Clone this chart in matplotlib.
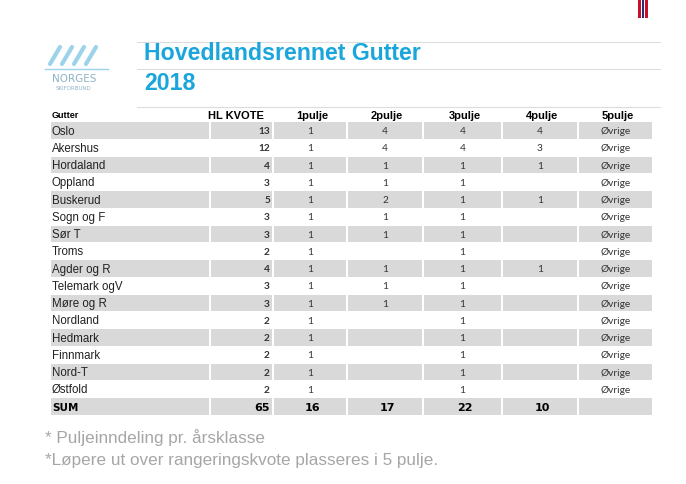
import matplotlib.pyplot as plt
from matplotlib.patches import Rectangle

# table data
regions = ["Oslo", "Akershus", "Hordaland", "Oppland", "Buskerud", "Sogn og F",
           "Sør T", "Troms", "Agder og R", "Telemark ogV", "Møre og R",
           "Nordland", "Hedmark", "Finnmark", "Nord-T", "Østfold"]
hl_kvote = [13, 12, 4, 3, 5, 3, 3, 2, 4, 3, 3, 2, 2, 2, 2, 2]
pulje1 = [1] * 16
pulje2 = [4, 4, 1, 1, 2, 1, 1, None, 1, 1, 1, None, None, None, None, None]
pulje3 = [4, 4, 1, 1, 1, 1, 1, 1, 1, 1, 1, 1, 1, 1, 1, 1]
pulje4 = [4, 3, 1, None, 1, None, None, None, 1, None, None, None, None, None, None, None]
pulje5 = ["Øvrige"] * 16
headers = ["Gutter", "HL KVOTE", "1pulje", "2pulje", "3pulje", "4pulje", "5pulje"]
sum_row = ["SUM", 65, 16, 17, 22, 10, None]
notes = ["* Puljeinndeling pr. årsklasse",
         "*Løpere ut over rangeringskvote plasseres i 5 pulje."]

W, H = 686, 485
fig = plt.figure(figsize=(W / 100, H / 100), dpi=100)
ax = fig.add_axes([0, 0, 1, 1])
ax.set_xlim(0, W)
ax.set_ylim(H, 0)
ax.axis("off")

blue = "#1aa6db"
gray_txt = "#a6a6a6"
shade = "#d9d9d9"

# flag stripes top right
ax.add_patch(Rectangle((638, 0), 3, 19, color="#c8102e", lw=0))
ax.add_patch(Rectangle((642, 0), 2, 19, color="#2b2d6e", lw=0))
ax.add_patch(Rectangle((645, 0), 3, 19, color="#c8102e", lw=0))

# logo (rough)
ax.text(74, 79, "NORGES", color="#8fb3c4", fontsize=7.5, ha="center",
        va="center", family="DejaVu Sans")
ax.text(74, 88, "SKIFORBUND", color="#8fb3c4", fontsize=4, ha="center",
        va="center", family="DejaVu Sans")
for dx in [0, 12, 24, 36]:
    ax.plot([50 + dx, 60 + dx], [65, 48], color="#9cd3ea", lw=3, solid_capstyle="round")
ax.plot([45, 108], [70, 70], color="#9cd3ea", lw=1)

# title and rules
for y in [43, 70, 108]:
    ax.plot([137, 660], [y, y], color="#dddddd", lw=0.8)
ax.text(144, 54, "Hovedlandsrennet Gutter", color=blue, fontsize=16.7,
        fontweight="bold", family="Liberation Sans", va="center")
ax.text(144, 83, "2018", color=blue, fontsize=16.7,
        fontweight="bold", family="Liberation Sans", va="center")

# table geometry
bounds = [50, 210, 273, 347, 423, 502, 578, 653]
row_top = 123
row_h = 17.25
hdr_y = 116

ax.text(52, hdr_y, headers[0], fontsize=6.5, fontweight="bold",
        family="Liberation Sans", va="center")
ax.text(264, hdr_y, headers[1], fontsize=8, fontweight="bold",
        family="Liberation Sans", va="center", ha="right")
for j in range(2, 7):
    cx = (bounds[j] + bounds[j + 1]) / 2
    ax.text(cx + 2, hdr_y, headers[j], fontsize=8, fontweight="bold",
            family="Liberation Sans", va="center", ha="center")

cols = [pulje1, pulje2, pulje3, pulje4, pulje5]
n = len(regions)
for i in range(n + 1):
    top = row_top + i * row_h
    cy = top + row_h / 2
    if i % 2 == 0:
        for j in range(7):
            ax.add_patch(Rectangle((bounds[j] + 1, top), bounds[j + 1] - bounds[j] - 2,
                                   row_h - 0.5, color=shade, lw=0))
    if i < n:
        ax.text(52, cy, regions[i], fontsize=8.3, family="Liberation Sans",
                va="center", color="#222222")
        ax.text(270, cy, str(hl_kvote[i]), fontsize=7.3, fontweight="bold",
                family="Lato", va="center", ha="right", color="#333333")
        for j, col in enumerate(cols):
            v = col[i]
            if v is None:
                continue
            cx = (bounds[j + 2] + bounds[j + 3]) / 2
            ax.text(cx, cy, str(v), fontsize=7.3, family="Lato",
                    va="center", ha="center", color="#333333")
    else:
        ax.text(52, cy, sum_row[0], fontsize=7.5, fontweight="bold",
                family="Liberation Sans Narrow", va="center")
        ax.text(270, cy, str(sum_row[1]), fontsize=8, fontweight="bold",
                family="Liberation Sans Narrow", va="center", ha="right")
        for j in range(2, 6):
            cx = (bounds[j] + bounds[j + 1]) / 2
            ax.text(cx + 2, cy, str(sum_row[j]), fontsize=8, fontweight="bold",
                    family="Liberation Sans Narrow", va="center", ha="center")

# footnotes
ax.text(45, 438, notes[0], color=gray_txt, fontsize=12.3, family="Liberation Sans",
        va="center")
ax.text(45, 461, notes[1], color=gray_txt, fontsize=12.3, family="Liberation Sans",
        va="center")

fig.savefig("out.png", dpi=100)
